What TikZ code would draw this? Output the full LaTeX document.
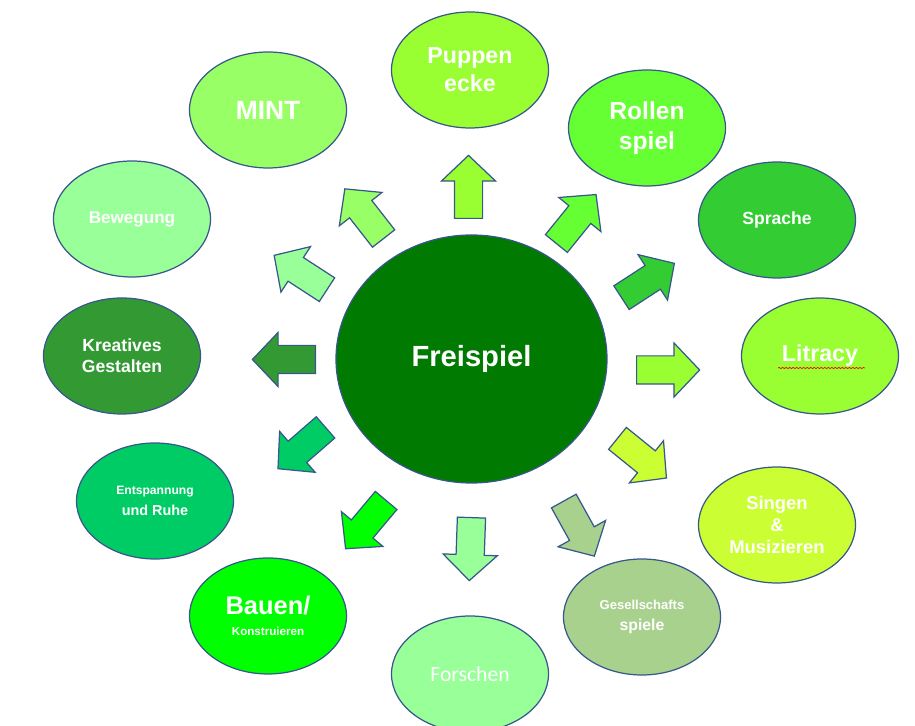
\documentclass[tikz,border=0pt]{standalone}
\usepackage{fontspec}
\setmainfont{Liberation Sans}
\newfontfamily\calibri{Carlito}
\usepackage{tikz}
\usetikzlibrary{shapes.geometric,shapes.arrows,decorations.pathmorphing}
\definecolor{rand}{RGB}{56,87,140}
\definecolor{freigruen}{RGB}{0,122,0}
\definecolor{gelbgruen}{RGB}{153,255,51}
\definecolor{hellgruen}{RGB}{153,255,102}
\definecolor{mintgruen}{RGB}{153,255,153}
\definecolor{rollengruen}{RGB}{102,255,51}
\definecolor{sprachgruen}{RGB}{51,204,51}
\definecolor{kreativgruen}{RGB}{51,153,51}
\definecolor{ruhegruen}{RGB}{0,204,102}
\definecolor{baugruen}{RGB}{0,255,0}
\definecolor{spielgruen}{RGB}{169,209,142}
\definecolor{limette}{RGB}{204,255,51}

\begin{document}
\begin{tikzpicture}[every node/.style={align=center,font=\bfseries,text=white},
  bubble/.style={ellipse,draw=rand,line width=0.7pt,minimum width=3.14cm,minimum height=2.32cm,inner sep=0pt},
  pfeil/.style={single arrow,draw=rand,line width=0.7pt,minimum height=1.26cm,inner xsep=0pt,inner ysep=0.27cm,
    single arrow head extend=0.26cm,single arrow tip angle=93,anchor=tail}]
  \useasboundingbox (0,0) rectangle (18.3,14.52);
  % Mitte
  \node[ellipse,draw=rand,line width=0.7pt,fill=freigruen,minimum width=5.42cm,minimum height=4.96cm,
    font=\bfseries\fontsize{16.6}{20}\selectfont] (frei) at (9.43,7.34) {Freispiel};
  % Bereiche im Kreis
  \node[bubble,fill=gelbgruen,font=\bfseries\fontsize{13.2}{16}\selectfont] (puppen) at (9.40,13.12) {Puppen\\ecke};
  \node[bubble,fill=rollengruen,font=\bfseries\fontsize{14}{17.4}\selectfont] (rollen) at (12.94,11.96) {Rollen\\spiel};
  \node[bubble,fill=sprachgruen,font=\bfseries\fontsize{10}{12}\selectfont] (sprache) at (15.54,10.12) {Sprache};
  \node[bubble,fill=gelbgruen,font=\bfseries\fontsize{13.2}{16}\selectfont] (litracy) at (16.40,7.40) {Litracy};
  \node[bubble,fill=limette,font=\bfseries\fontsize{10.5}{12.3}\selectfont] (singen) at (15.54,4.02) {Singen\\\&\\Musizieren};
  \node[bubble,fill=spielgruen] (gesellschaft) at (12.84,2.18)
    {\fontsize{7.4}{9}\selectfont Gesellschafts\\\fontsize{9}{11.3}\selectfont spiele};
  \node[bubble,fill=mintgruen,font=\calibri\fontsize{12.3}{15}\selectfont] (forschen) at (9.40,1.04) {Forschen};
  \node[bubble,fill=baugruen] (bauen) at (5.36,2.20)
    {\fontsize{14.5}{17}\selectfont Bauen/\\\fontsize{6.6}{10.8}\selectfont Konstruieren};
  \node[bubble,fill=ruhegruen] (ruhe) at (3.10,4.50)
    {\fontsize{6.9}{8.5}\selectfont Entspannung\\\fontsize{8.2}{10.2}\selectfont und Ruhe};
  \node[bubble,fill=kreativgruen,font=\bfseries\fontsize{10}{11.7}\selectfont] (kreativ) at (2.44,7.40) {Kreatives\\Gestalten};
  \node[bubble,fill=mintgruen,font=\bfseries\fontsize{9.7}{12}\selectfont] (bewegung) at (2.64,10.14) {Bewegung};
  \node[bubble,fill=hellgruen,font=\bfseries\fontsize{15}{18}\selectfont] (mint) at (5.36,12.32) {MINT};
  % Rechtschreib-Welle unter Litracy
  \draw[red,line width=0.4pt,decorate,decoration={snake,amplitude=0.35pt,segment length=2pt}]
    ([xshift=-0.84cm,yshift=-0.24cm]litracy.center) -- ([xshift=0.9cm,yshift=-0.24cm]litracy.center);
  % Pfeile nach aussen (am Schaftende gesetzt)
  \node[pfeil,fill=gelbgruen,rotate=90] (p-puppen) at (9.37,10.14) {};
  \node[pfeil,fill=rollengruen,rotate=51] (p-rollen) at (11.12,9.64) {};
  \node[pfeil,fill=sprachgruen,rotate=33] (p-sprache) at (12.42,8.56) {};
  \node[pfeil,fill=gelbgruen,rotate=0] (p-litracy) at (12.72,7.12) {};
  \node[pfeil,fill=limette,rotate=-39] (p-singen) at (12.34,5.76) {};
  \node[pfeil,fill=spielgruen,rotate=-61] (p-gesellschaft) at (11.27,4.51) {};
  \node[pfeil,fill=mintgruen,rotate=-92] (p-forschen) at (9.43,4.18) {};
  \node[pfeil,fill=baugruen,rotate=-130] (p-bauen) at (7.73,4.52) {};
  \node[pfeil,fill=ruhegruen,rotate=-139] (p-ruhe) at (6.52,5.98) {};
  \node[pfeil,fill=kreativgruen,rotate=180] (p-kreativ) at (6.32,7.33) {};
  \node[pfeil,fill=mintgruen,rotate=147] (p-bewegung) at (6.55,8.72) {};
  \node[pfeil,fill=hellgruen,rotate=128] (p-mint) at (7.68,9.74) {};
\end{tikzpicture}
\end{document}
